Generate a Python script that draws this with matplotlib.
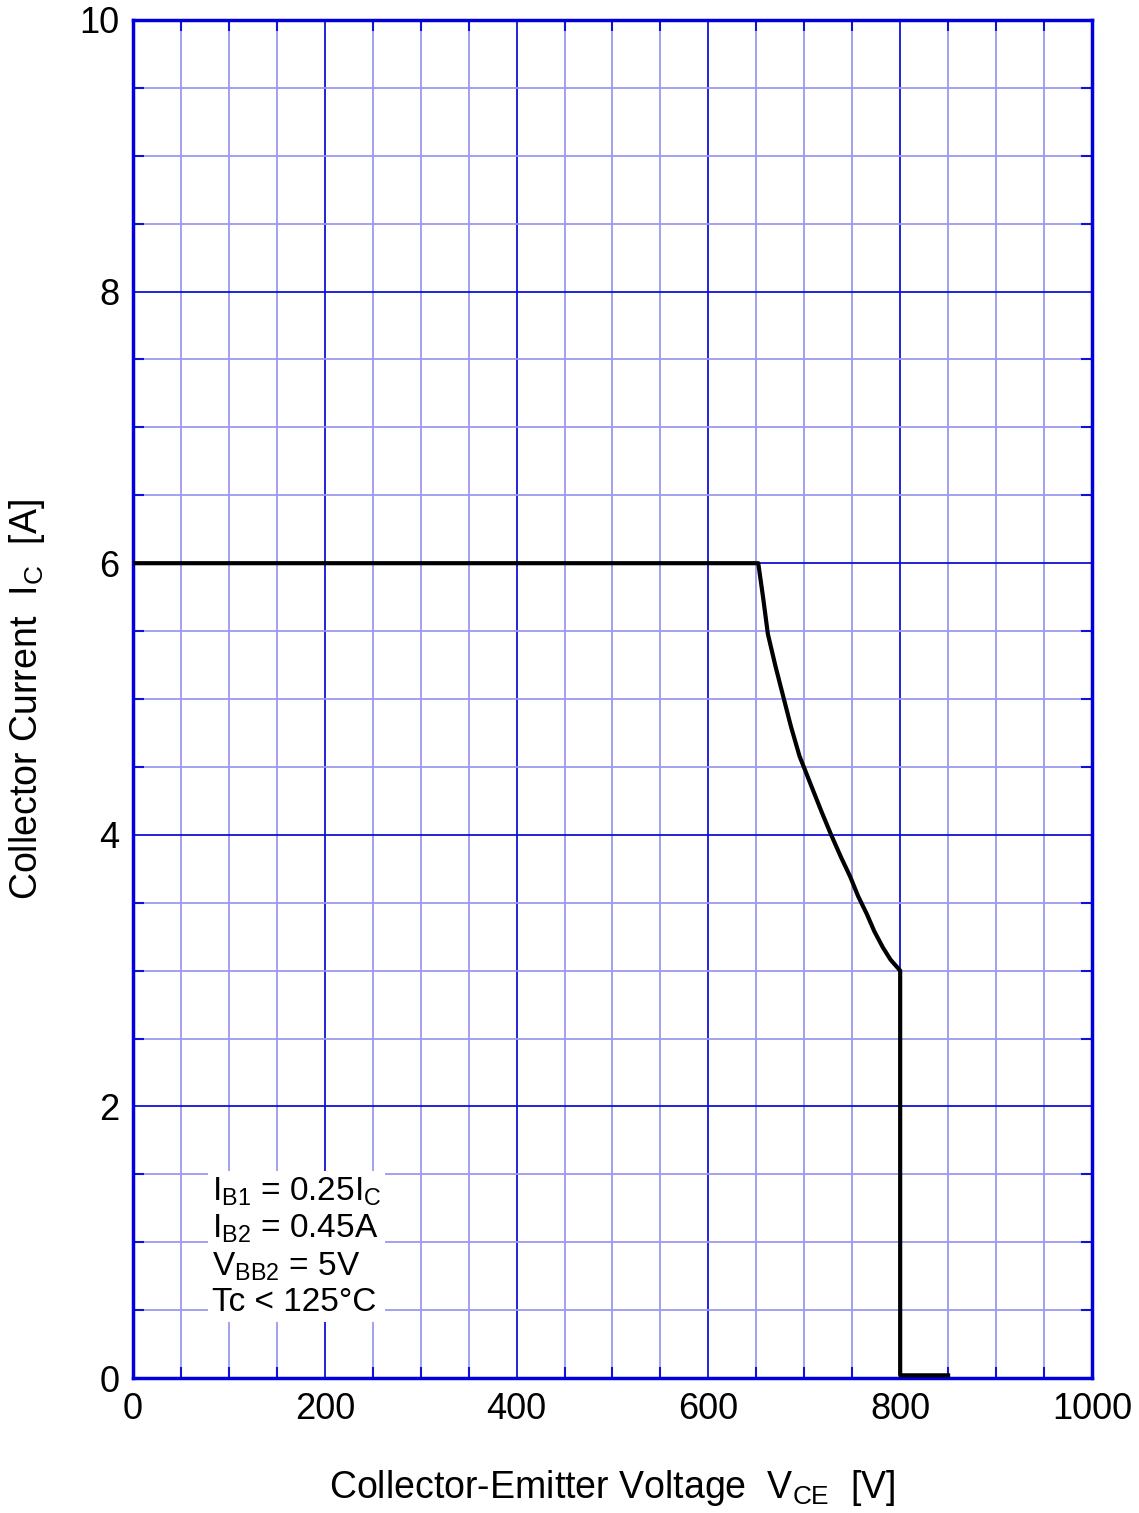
import matplotlib.pyplot as plt
import numpy as np
from matplotlib.ticker import MultipleLocator

plt.rcParams['font.family'] = ['Liberation Sans', 'DejaVu Sans']
plt.rcParams['mathtext.fontset'] = 'custom'
plt.rcParams['mathtext.rm'] = 'Liberation Sans'
plt.rcParams['mathtext.it'] = 'Liberation Sans'

# safe operating area curve
vce = [0, 652, 657, 662, 670, 678, 686, 695, 709, 718, 728, 738, 748,
       756, 765, 773, 782, 790, 800, 800, 850]
ic = [6.0, 6.0, 5.75, 5.48, 5.24, 5.02, 4.8, 4.58, 4.33, 4.17, 4.0, 3.84,
      3.69, 3.55, 3.42, 3.29, 3.17, 3.08, 3.0, 0.02, 0.02]

x_ticks = [0, 200, 400, 600, 800, 1000]
y_ticks = [0, 2, 4, 6, 8, 10]

major_col = '#1010d8'
minor_col = '#9a9aee'

fig = plt.figure(figsize=(11.39, 15.13), dpi=100)
ax = fig.add_axes([0.1168, 0.0892, 0.8419, 0.8976])

ax.set_xlim(0, 1000)
ax.set_ylim(0, 10)
ax.set_xticks(x_ticks)
ax.set_yticks(y_ticks)
ax.xaxis.set_minor_locator(MultipleLocator(50))
ax.yaxis.set_minor_locator(MultipleLocator(0.5))

ax.grid(True, which='major', color=major_col, lw=1.3)
ax.grid(True, which='minor', color=minor_col, lw=1.3)
ax.set_axisbelow(True)

ax.tick_params(which='both', direction='in', color=major_col, width=1.5,
               top=True, right=True, labelsize=26, pad=10)
ax.tick_params(which='major', length=0)
ax.tick_params(which='minor', length=8)

for s in ax.spines.values():
    s.set_color('#0000dd')
    s.set_linewidth(2.5)

ax.plot(vce, ic, color='black', lw=3, solid_joinstyle='round', zorder=5)

ax.text(82, 0.965,
        '$\\mathregular{I_{B1}}$ = 0.25$\\mathregular{I_C}$\n'
        '$\\mathregular{I_{B2}}$ = 0.45A\n'
        '$\\mathregular{V_{BB2}}$ = 5V\n'
        'Tc < 125°C',
        fontsize=24, va='center', ha='left', linespacing=1.2,
        bbox=dict(facecolor='white', edgecolor='none', pad=3), zorder=4)

ax.set_xlabel('Collector-Emitter Voltage  $\\mathregular{V_{CE}}$  [V]',
              fontsize=27)
ax.set_ylabel('Collector Current  $\\mathregular{I_C}$  [A]',
              fontsize=27)
ax.xaxis.set_label_coords(0.5, -0.066)
ax.yaxis.set_label_coords(-0.09, 0.5)

fig.savefig('out.png', dpi=100)
